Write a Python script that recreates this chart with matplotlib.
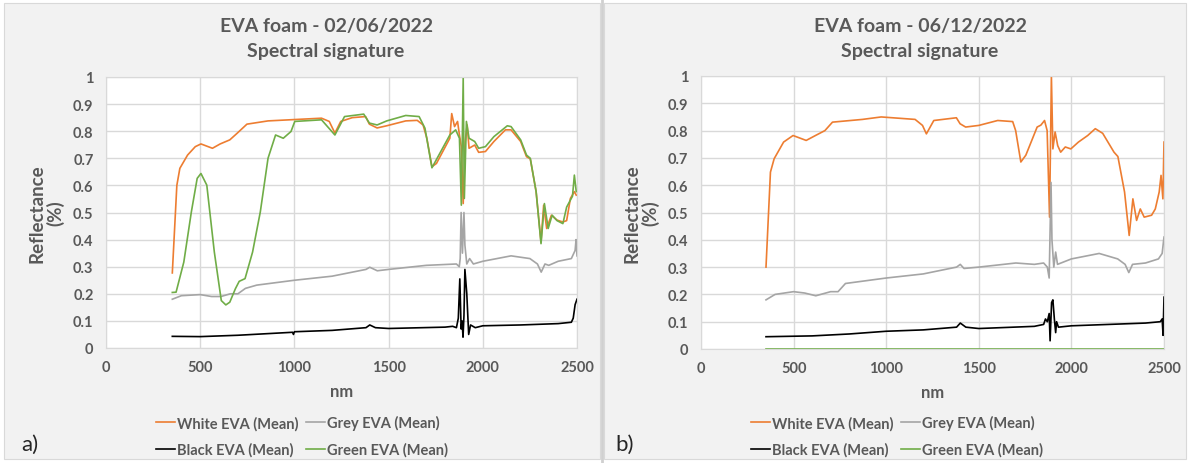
import matplotlib
matplotlib.use("Agg")
from matplotlib import pyplot as plt
from matplotlib.patches import Rectangle
from matplotlib.lines import Line2D

plt.rcParams["font.family"] = ["Lato", "DejaVu Sans"]

# ---- 02/06/2022 spectra (wavelength nm, reflectance) ----
white_a_nm = [352, 376, 392, 433, 474, 504, 565, 606, 657, 697, 748, 860, 1002, 1144, 1185,
              1215, 1246, 1307, 1378, 1398, 1439, 1490, 1591, 1652, 1683, 1703, 1730, 1754,
              1825, 1835, 1850, 1866, 1876, 1886, 1896, 1906, 1917, 1927, 1957, 1978, 2014,
              2059, 2120, 2150, 2201, 2232, 2252, 2283, 2309, 2323, 2339, 2364, 2394, 2425,
              2445, 2465, 2486, 2496]
white_a = [0.277, 0.60, 0.663, 0.712, 0.743, 0.753, 0.737, 0.753, 0.768, 0.793, 0.826, 0.838,
           0.843, 0.848, 0.836, 0.793, 0.836, 0.850, 0.854, 0.826, 0.812, 0.820, 0.838, 0.840,
           0.823, 0.774, 0.669, 0.681, 0.774, 0.865, 0.817, 0.836, 0.786, 0.743, 0.533, 0.760,
           0.823, 0.737, 0.749, 0.722, 0.725, 0.762, 0.805, 0.805, 0.762, 0.706, 0.698, 0.577,
           0.391, 0.527, 0.441, 0.490, 0.472, 0.465, 0.470, 0.552, 0.577, 0.564]

green_a_nm = [352, 372, 413, 453, 484, 504, 535, 575, 612, 636, 657, 687, 707, 738, 778, 819,
              860, 900, 941, 982, 1002, 1144, 1215, 1266, 1368, 1398, 1439, 1490, 1591, 1662,
              1693, 1730, 1825, 1856, 1876, 1886, 1896, 1902, 1913, 1927, 1957, 1978, 2014,
              2059, 2130, 2150, 2201, 2232, 2252, 2283, 2309, 2327, 2347, 2368, 2394, 2425,
              2445, 2476, 2486, 2496]
green_a = [0.205, 0.206, 0.317, 0.502, 0.626, 0.644, 0.601, 0.354, 0.175, 0.159, 0.169, 0.219,
           0.246, 0.256, 0.354, 0.502, 0.700, 0.786, 0.774, 0.799, 0.836, 0.842, 0.786, 0.854,
           0.863, 0.830, 0.823, 0.838, 0.858, 0.854, 0.811, 0.665, 0.786, 0.805, 0.774, 0.527,
           0.996, 0.552, 0.836, 0.774, 0.762, 0.737, 0.743, 0.780, 0.820, 0.817, 0.768, 0.712,
           0.700, 0.577, 0.385, 0.533, 0.441, 0.490, 0.470, 0.459, 0.520, 0.560, 0.638, 0.577]

grey_a_nm = [352, 400, 500, 560, 610, 660, 700, 740, 800, 1000, 1200, 1380, 1400, 1440, 1500,
             1700, 1860, 1875, 1880, 1885, 1892, 1900, 1905, 1915, 1930, 1950, 2000, 2150, 2250,
             2290, 2310, 2330, 2350, 2400, 2470, 2490, 2495, 2500]
grey_a = [0.180, 0.193, 0.197, 0.190, 0.190, 0.200, 0.200, 0.220, 0.232, 0.250, 0.265, 0.290,
          0.298, 0.285, 0.290, 0.305, 0.310, 0.300, 0.330, 0.500, 0.350, 0.500, 0.380, 0.310,
          0.330, 0.310, 0.320, 0.340, 0.330, 0.310, 0.280, 0.310, 0.305, 0.320, 0.330, 0.360,
          0.400, 0.340]

black_a_nm = [352, 500, 700, 990, 995, 1000, 1200, 1380, 1400, 1430, 1500, 1800, 1840, 1860,
              1870, 1878, 1885, 1890, 1895, 1900, 1905, 1915, 1925, 1935, 1960, 2000, 2200,
              2400, 2470, 2480, 2490, 2500]
black_a = [0.043, 0.042, 0.047, 0.058, 0.050, 0.060, 0.065, 0.075, 0.085, 0.075, 0.072, 0.077,
           0.080, 0.075, 0.110, 0.255, 0.070, 0.100, 0.040, 0.120, 0.290, 0.200, 0.050, 0.085,
           0.075, 0.082, 0.085, 0.090, 0.095, 0.110, 0.160, 0.180]

# ---- 06/12/2022 spectra ----
white_b_nm = [351, 375, 395, 446, 497, 568, 618, 669, 710, 872, 973, 1156, 1196, 1217, 1257,
              1379, 1399, 1429, 1500, 1602, 1683, 1699, 1727, 1754, 1815, 1835, 1855, 1869,
              1882, 1892, 1900, 1912, 1926, 1942, 1967, 1997, 2038, 2088, 2129, 2169, 2230,
              2251, 2287, 2312, 2332, 2352, 2372, 2393, 2433, 2453, 2474, 2484, 2494, 2500]
white_b = [0.300, 0.648, 0.697, 0.758, 0.782, 0.764, 0.782, 0.800, 0.831, 0.841, 0.850, 0.841,
           0.819, 0.788, 0.837, 0.847, 0.825, 0.813, 0.819, 0.837, 0.833, 0.800, 0.685, 0.710,
           0.813, 0.820, 0.837, 0.800, 0.483, 1.000, 0.733, 0.795, 0.745, 0.721, 0.740, 0.733,
           0.758, 0.782, 0.807, 0.790, 0.721, 0.705, 0.575, 0.416, 0.550, 0.471, 0.513, 0.483,
           0.490, 0.513, 0.575, 0.636, 0.550, 0.758]

grey_b_nm = [351, 400, 500, 560, 620, 700, 740, 780, 1000, 1200, 1380, 1400, 1420, 1500, 1700,
             1800, 1850, 1870, 1880, 1890, 1895, 1905, 1915, 1925, 2000, 2150, 2250, 2290,
             2310, 2330, 2400, 2470, 2490, 2500]
grey_b = [0.180, 0.200, 0.210, 0.205, 0.195, 0.210, 0.210, 0.240, 0.260, 0.275, 0.300, 0.310,
          0.295, 0.300, 0.315, 0.310, 0.315, 0.300, 0.260, 0.610, 0.400, 0.300, 0.355, 0.310,
          0.330, 0.350, 0.330, 0.310, 0.280, 0.310, 0.315, 0.330, 0.350, 0.410]

black_b_nm = [351, 600, 800, 1000, 1200, 1380, 1400, 1430, 1500, 1800, 1850, 1860, 1870, 1880,
              1885, 1893, 1900, 1908, 1915, 1920, 1930, 2000, 2200, 2400, 2480, 2490, 2495, 2500]
black_b = [0.045, 0.048, 0.055, 0.065, 0.070, 0.080, 0.095, 0.080, 0.075, 0.083, 0.090, 0.110,
           0.100, 0.130, 0.030, 0.170, 0.180, 0.110, 0.060, 0.100, 0.080, 0.085, 0.090, 0.095,
           0.100, 0.110, 0.050, 0.190]

green_b_nm = [351, 2500]
green_b = [0.0, 0.0]

titles = ["EVA foam - 02/06/2022\nSpectral signature", "EVA foam - 06/12/2022\nSpectral signature"]
panel_tags = ["a)", "b)"]
series_names = ["White EVA (Mean)", "Grey EVA (Mean)", "Black EVA (Mean)", "Green EVA (Mean)"]
series_colors = ["#ED7D31", "#A5A5A5", "#000000", "#70AD47"]

W, H = 1188, 464
TXT = "#595959"
fig = plt.figure(figsize=(W / 100, H / 100), dpi=100)


def px(x0, y0, x1, y1):
    """pixel box (top-left origin) -> figure fraction rect"""
    return [x0 / W, 1 - y1 / H, (x1 - x0) / W, (y1 - y0) / H]


# grey chart-area backgrounds, kept under the axes
for x0, x1 in [(4, 600), (604, 1186)]:
    fig.patches.append(Rectangle((x0 / W, 4 / H), (x1 - x0) / W, (H - 8) / H,
                                 transform=fig.transFigure, facecolor="#F2F2F2",
                                 edgecolor="#D9D9D9", linewidth=0.8, zorder=-5))
fig.add_artist(Line2D([602 / W, 602 / W], [0, 1], color="#D0D0D0", lw=2, zorder=-4))

panels = [
    dict(box=(106, 78, 577, 349), title_x=326, legend_x=302, tag_x=30,
         data=[(white_a_nm, white_a), (grey_a_nm, grey_a), (black_a_nm, black_a), (green_a_nm, green_a)]),
    dict(box=(701, 77, 1164, 350), title_x=920, legend_x=897, tag_x=625,
         data=[(white_b_nm, white_b), (grey_b_nm, grey_b), (black_b_nm, black_b), (green_b_nm, green_b)]),
]

for p, title, tag in zip(panels, titles, panel_tags):
    ax = fig.add_axes(px(*p["box"]))
    ax.set_facecolor("white")
    lines = []
    for (x, y), name, c in zip(p["data"], series_names, series_colors):
        ln, = ax.plot(x, y, color=c, lw=1.2, label=name)
        lines.append(ln)

    ax.set_xlim(0, 2500)
    ax.set_ylim(0, 1)
    ax.set_xticks(range(0, 2501, 500))
    ax.set_yticks([i / 10 for i in range(11)])
    ax.set_yticklabels(["0", "0.1", "0.2", "0.3", "0.4", "0.5", "0.6", "0.7", "0.8", "0.9", "1"])
    ax.grid(color="#D9D9D9", lw=1)
    ax.set_axisbelow(True)
    for s in ax.spines.values():
        s.set_color("#D9D9D9")
    ax.tick_params(length=0, labelsize=10.5, labelcolor=TXT, pad=9)
    for lab in ax.get_xticklabels() + ax.get_yticklabels():
        lab.set_fontweight("bold")

    ax.set_xlabel("nm", fontsize=12, fontweight="bold", color=TXT, labelpad=6)
    ax.set_ylabel("Reflectance\n(%)", fontsize=13.5, fontweight="bold", color=TXT,
                  labelpad=6, linespacing=1.1)

    fig.text(p["title_x"] / W, 1 - 39 / H, title, ha="center", va="center", fontsize=14,
             fontweight="bold", color=TXT, linespacing=1.55)

    order = [0, 2, 1, 3]
    fig.legend([lines[i] for i in order], [series_names[i] for i in order],
               loc="center", bbox_to_anchor=(p["legend_x"] / W, 1 - 437 / H), ncol=2,
               frameon=False, handlelength=1.3, handletextpad=0.15,
               columnspacing=0.5, labelspacing=0.8, labelcolor=TXT,
               prop={"weight": "bold", "size": 10.5})

    fig.text(p["tag_x"] / W, 1 - 445 / H, tag, ha="center", va="center", fontsize=16,
             color="#262626")

fig.savefig("out.png", dpi=100)
